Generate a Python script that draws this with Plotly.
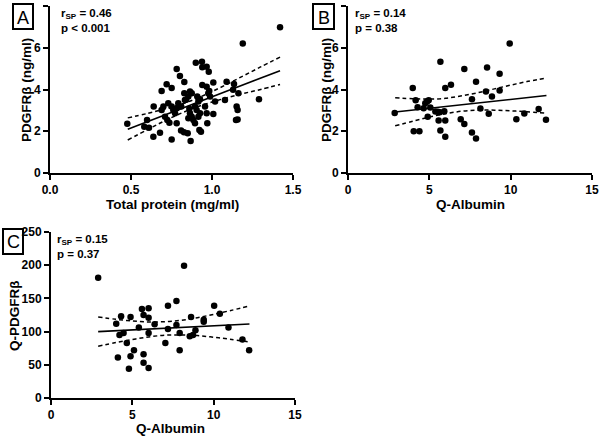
import plotly.graph_objects as go

W, H = 600, 439

# ---------------- Panel A data ----------------
a_x = [0.477, 0.582, 0.611, 0.599, 0.638, 0.679, 0.689, 0.689, 0.72, 0.751,
       0.751, 0.782, 0.802, 0.829, 0.70, 0.71, 0.724, 0.737, 0.73, 0.751,
       0.761, 0.772, 0.782, 0.792, 0.782, 0.809, 0.827, 0.85, 0.868, 0.833,
       0.854, 0.864, 0.875, 0.864, 0.875, 0.854, 0.90, 0.938, 0.94, 0.967,
       0.98, 0.94, 0.967, 0.983, 1.008, 0.909, 0.916, 0.926, 0.895, 0.905,
       0.885, 0.895, 0.916, 0.926, 0.922, 0.932, 0.957, 0.967, 0.971, 0.977,
       0.988, 1.008, 1.019, 1.09, 1.08, 1.136, 1.163, 1.152, 1.158, 1.148,
       1.158, 1.29, 1.19, 1.42, 0.829, 0.64, 0.81, 0.84, 0.86, 1.13]
a_y = [2.36, 2.22, 2.17, 2.54, 1.74, 1.93, 3.93, 3.02, 4.25, 4.07,
       1.61, 4.98, 4.65, 4.36, 3.18, 2.70, 2.54, 2.41, 3.34, 3.18,
       3.02, 2.86, 3.10, 3.34, 2.38, 2.03, 1.95, 1.90, 1.53, 3.50,
       3.66, 3.90, 3.82, 2.86, 2.70, 2.62, 5.28, 5.33, 5.06, 5.09,
       4.85, 4.22, 4.13, 3.93, 4.33, 3.66, 3.42, 3.53, 3.18, 3.02,
       2.54, 2.38, 2.70, 2.86, 2.06, 1.98, 3.18, 2.86, 2.38, 3.82,
       3.66, 2.83, 3.42, 4.37, 3.50, 4.26, 3.82, 3.18, 3.02, 2.54,
       2.56, 3.53, 6.20, 6.98, 3.82, 3.19, 3.19, 3.51, 3.08, 3.99]
a_fit_x = [0.48, 0.6, 0.7, 0.8, 0.9, 1.0, 1.1, 1.2, 1.3, 1.42]
a_fit_y = [2.10, 2.46, 2.76, 3.05, 3.35, 3.65, 3.95, 4.25, 4.54, 4.90]
a_ci_hi = [2.64, 2.85, 3.05, 3.27, 3.55, 3.90, 4.28, 4.68, 5.08, 5.55]
a_ci_lo = [1.58, 2.07, 2.47, 2.83, 3.15, 3.40, 3.62, 3.82, 4.00, 4.24]

# ---------------- Panel B data ----------------
b_x = [2.87, 3.98, 4.04, 4.39, 4.16, 4.28, 4.65, 4.75, 4.86, 4.96,
       4.90, 5.06, 5.37, 5.53, 5.64, 5.68, 5.57, 5.68, 5.92, 5.98,
       5.98, 5.98, 6.33, 6.93, 7.15, 7.15, 7.62, 7.87, 7.87, 7.62,
       8.14, 8.48, 8.55, 8.65, 8.85, 9.32, 9.32, 9.94, 10.35, 10.84,
       11.72, 12.17]
b_y = [2.88, 4.07, 2.00, 2.00, 3.48, 3.15, 3.10, 3.34, 3.42, 3.48,
       2.69, 3.14, 2.95, 2.94, 2.91, 5.33, 2.51, 2.04, 2.96, 4.07,
       2.51, 1.74, 4.23, 2.58, 4.98, 2.35, 1.94, 1.65, 4.37, 3.53,
       3.09, 3.91, 5.05, 2.84, 3.66, 4.76, 3.95, 6.20, 2.58, 2.85,
       3.07, 2.55]
b_fit_x = [2.9, 4, 5, 6, 7, 8, 9, 10, 11, 12.2]
b_fit_y = [2.92, 3.01, 3.10, 3.18, 3.27, 3.35, 3.44, 3.52, 3.61, 3.71]
b_ci_hi = [3.60, 3.56, 3.54, 3.58, 3.70, 3.85, 4.03, 4.21, 4.38, 4.55]
b_ci_lo = [2.26, 2.48, 2.68, 2.84, 2.96, 3.01, 3.01, 2.98, 2.93, 2.87]

# ---------------- Panel C data ----------------
c_x = [2.90, 4.01, 4.11, 4.21, 4.31, 4.46, 4.66, 4.79, 4.89, 4.89,
       5.10, 5.40, 5.59, 5.69, 5.69, 5.69, 6.00, 6.00, 6.00, 6.00,
       6.37, 7.03, 7.19, 7.19, 7.71, 7.71, 7.91, 7.91, 8.18, 8.53,
       8.61, 8.73, 8.88, 9.39, 9.39, 10.03, 10.38, 10.91, 11.77, 12.18]
c_y = [181, 112, 61, 95, 123, 98, 83, 44, 122, 63,
       72, 106, 134, 125, 66, 53, 135, 121, 98, 45,
       111, 83, 139, 104, 146, 110, 98, 72, 199, 93,
       122, 95, 102, 118, 115, 139, 127, 106, 88, 72]
c_fit_x = [2.9, 4, 5, 6, 7, 8, 9, 10, 11, 12.2]
c_fit_y = [100.0, 101.3, 102.6, 103.8, 105.0, 106.3, 107.5, 108.7, 109.9, 111.4]
c_ci_hi = [122, 118.5, 116, 114.5, 115, 117, 121, 126, 131.5, 138.5]
c_ci_lo = [78, 83.5, 88, 92, 94.5, 95, 94, 91.5, 88.5, 84.5]

# ---------------- Labels ----------------
a_xticks = [0.0, 0.5, 1.0, 1.5]
a_xticktext = ["0.0", "0.5", "1.0", "1.5"]
ab_yticks = [0, 2, 4, 6, 8]
bc_xticks = [0, 5, 10, 15]
c_yticks = [0, 50, 100, 150, 200, 250]

stats = [("A", "0.46", "p < 0.001"), ("B", "0.14", "p = 0.38"), ("C", "0.15", "p = 0.37")]

FONT = "Liberation Sans, Arial, sans-serif"


def px_x(p):
    return p / W


def px_y(p):
    return 1 - p / H


def bold(vals, texts=None):
    texts = texts if texts is not None else [str(v) for v in vals]
    return dict(tickvals=vals, ticktext=[f"<b>{t}</b>" for t in texts])


fig = go.Figure()

panels = [
    ("x", "y", a_x, a_y, a_fit_x, a_fit_y, a_ci_hi, a_ci_lo),
    ("x2", "y2", b_x, b_y, b_fit_x, b_fit_y, b_ci_hi, b_ci_lo),
    ("x3", "y3", c_x, c_y, c_fit_x, c_fit_y, c_ci_hi, c_ci_lo),
]
for xa, ya, sx, sy, fx, fy, hi, lo in panels:
    fig.add_trace(go.Scatter(x=sx, y=sy, mode="markers", xaxis=xa, yaxis=ya,
                             marker=dict(color="black", size=6.5), showlegend=False))
    fig.add_trace(go.Scatter(x=fx, y=fy, mode="lines", xaxis=xa, yaxis=ya,
                             line=dict(color="black", width=1.6), showlegend=False))
    for band in (hi, lo):
        fig.add_trace(go.Scatter(x=fx, y=band, mode="lines", xaxis=xa, yaxis=ya,
                                 line=dict(color="black", width=1.5, dash="4px,3px", shape="spline"),
                                 showlegend=False))

axcommon = dict(showline=True, linecolor="black", linewidth=2, ticks="outside",
                ticklen=5, tickwidth=2, tickcolor="black", showgrid=False,
                zeroline=False, automargin=False,
                tickfont=dict(family=FONT, size=12, color="black"),
                fixedrange=True)

fig.update_layout(
    width=W, height=H, margin=dict(l=0, r=0, t=0, b=0, pad=0, autoexpand=False),
    paper_bgcolor="white", plot_bgcolor="white",
    xaxis=dict(domain=[px_x(50), px_x(293)], range=[0, 1.5], anchor="y",
               **bold(a_xticks, a_xticktext), **axcommon),
    yaxis=dict(domain=[px_y(173), px_y(6)], range=[0, 8], anchor="x",
               **bold(ab_yticks), **axcommon),
    xaxis2=dict(domain=[px_x(348), px_x(592)], range=[0, 15], anchor="y2",
                **bold(bc_xticks), **axcommon),
    yaxis2=dict(domain=[px_y(173), px_y(6)], range=[0, 8], anchor="x2",
                **bold(ab_yticks), **axcommon),
    xaxis3=dict(domain=[px_x(51), px_x(295)], range=[0, 15], anchor="y3",
                **bold(bc_xticks), **axcommon),
    yaxis3=dict(domain=[px_y(398), px_y(232)], range=[0, 250], anchor="x3",
                **bold(c_yticks), **axcommon),
)

ann = []
titlefont = dict(family=FONT, size=13.5, color="black", weight="bold")
# x titles
for txt, cx, cy in [("Total protein (mg/ml)", 172, 204), ("Q-Albumin", 470, 204),
                    ("Q-Albumin", 170, 428)]:
    ann.append(dict(text=txt, x=px_x(cx), y=px_y(cy), xref="paper", yref="paper",
                    showarrow=False, font=titlefont, xanchor="center", yanchor="middle"))
# y titles
for txt, cx, cy in [("PDGFRβ (ng/ml)", 26, 90), ("PDGFRβ (ng/ml)", 326, 90),
                    ("Q-PDGFRβ", 14, 316)]:
    ann.append(dict(text=txt, x=px_x(cx), y=px_y(cy), xref="paper", yref="paper",
                    showarrow=False, font=titlefont, textangle=-90,
                    xanchor="center", yanchor="middle"))
# stats text
statfont = dict(family=FONT, size=11.5, color="black", weight="bold")
for (lab, r, p), (sx, sy) in zip(stats, [(59, 14), (353, 14), (55, 240)]):
    ann.append(dict(text=f"r<sub>SP</sub> = {r}", x=px_x(sx), y=px_y(sy), xref="paper",
                    yref="paper", showarrow=False, font=statfont, xanchor="left",
                    yanchor="middle"))
    ann.append(dict(text=p, x=px_x(sx), y=px_y(sy + 14), xref="paper",
                    yref="paper", showarrow=False, font=statfont, xanchor="left",
                    yanchor="middle"))
# panel letters with boxes
for (lab, r, p), (x0, y0, x1, y1) in zip(stats, [(13, 4, 33, 29), (313, 4, 334, 29),
                                                   (3, 229, 23, 254)]):
    fig.add_shape(type="rect", xref="paper", yref="paper",
                  x0=px_x(x0), x1=px_x(x1), y0=px_y(y1), y1=px_y(y0),
                  line=dict(color="black", width=2))
    ann.append(dict(text=lab, x=px_x((x0 + x1) / 2), y=px_y((y0 + y1) / 2 + 1),
                    xref="paper", yref="paper", showarrow=False,
                    font=dict(family=FONT, size=18, color="black"),
                    xanchor="center", yanchor="middle"))

fig.update_layout(annotations=ann)
fig.write_html("out.html", config={"displayModeBar": False},
               post_script="document.body.style.margin='0';")
